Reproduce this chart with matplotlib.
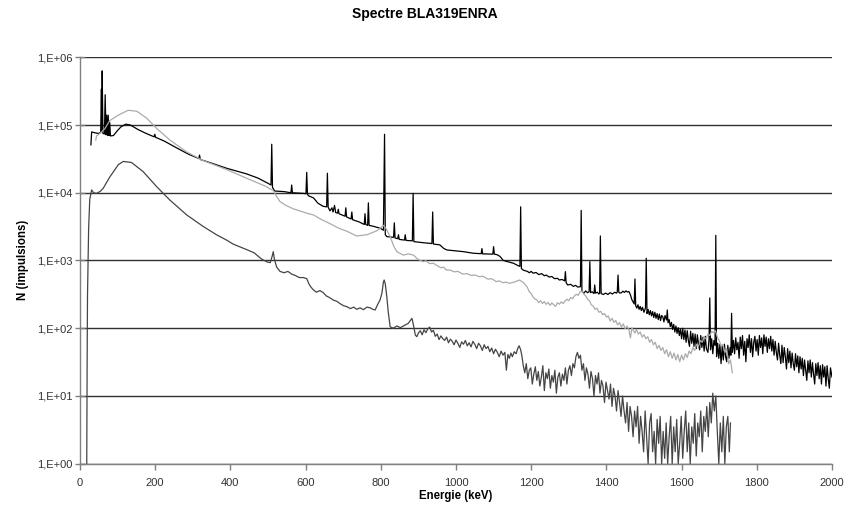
import matplotlib
matplotlib.use("Agg")
import numpy as np
from matplotlib import pyplot as plt
from matplotlib.ticker import FixedLocator, FuncFormatter, NullLocator

plt.rcParams["font.family"] = ["Liberation Sans", "DejaVu Sans"]

# Spectre BLA319ENRA, values: (energie keV, impulsions)
black = [
    (29, 5.1e4), (31, 7.9e4), (39, 7.7e4), (49, 7.5e4), (55, 7.8e4), (57, 3.4e5),
    (58, 8.0e4), (59, 6.3e5), (61, 7.5e4), (65, 7.4e4), (67, 2.8e5), (69, 7.2e4),
    (71, 1.4e5), (73, 7.0e4), (75, 1.4e5), (77, 7.0e4), (79, 1.1e5), (81, 6.9e4),
    (89, 7.0e4), (99, 8.2e4), (109, 9.4e4), (122, 1.03e5), (134, 1.0e5), (154, 8.6e4),
    (174, 7.6e4), (197, 6.7e4), (199, 7.3e4), (201, 6.6e4), (224, 5.8e4), (257, 4.6e4),
    (289, 3.7e4), (316, 3.2e4), (318, 3.6e4), (320, 3.1e4), (353, 2.7e4), (390, 2.3e4),
    (443, 1.9e4), (473, 1.65e4), (500, 1.38e4), (508, 1.3e4), (510, 5.2e4), (512, 1.2e4),
    (518, 1.06e4), (543, 1.04e4), (561, 1.0e4), (563, 1.3e4), (565, 1.0e4), (593, 9.8e3),
    (601, 9.7e3), (603, 2.0e4), (605, 9.5e3), (608, 9.0e3), (621, 8.4e3), (633, 7.0e3),
    (647, 6.3e3), (656, 6.2e3), (658, 1.94e4), (660, 6.1e3), (665, 5.4e3), (670, 6.0e3),
    (673, 5.2e3), (677, 6.5e3), (680, 5.1e3), (685, 5.0e3), (687, 5.7e3), (689, 4.9e3),
    (705, 4.5e3), (707, 6.0e3), (709, 4.4e3), (721, 4.1e3), (723, 5.2e3), (725, 4.0e3),
    (743, 3.7e3), (756, 3.4e3), (758, 4.9e3), (760, 3.4e3), (765, 3.3e3), (767, 7.1e3),
    (769, 3.3e3), (780, 3.2e3), (798, 3.0e3), (807, 2.8e3), (810, 7.3e4), (812, 2.4e3),
    (816, 2.25e3), (834, 2.2e3), (836, 3.6e3), (838, 2.15e3), (845, 2.1e3), (847, 2.4e3),
    (849, 2.05e3), (863, 2.0e3), (865, 2.4e3), (867, 1.98e3), (884, 1.95e3), (886, 9.8e3),
    (888, 1.9e3), (913, 1.83e3), (936, 1.78e3), (938, 5.2e3), (940, 1.75e3), (957, 1.7e3),
    (968, 1.5e3), (976, 1.43e3), (1020, 1.35e3), (1046, 1.28e3), (1067, 1.26e3),
    (1069, 1.5e3), (1071, 1.25e3), (1082, 1.25e3), (1098, 1.24e3), (1100, 1.6e3),
    (1102, 1.24e3), (1109, 1.22e3), (1117, 1.15e3), (1126, 1.0e3), (1153, 910),
    (1165, 840), (1170, 820), (1172, 6.2e3), (1174, 760), (1179, 720), (1190, 690),
    (1195, 660), (1200, 690), (1205, 650), (1213, 665), (1220, 620), (1228, 640),
    (1235, 595), (1240, 610), (1248, 570), (1255, 580), (1262, 540), (1270, 545),
    (1275, 515), (1282, 525), (1289, 500), (1291, 685), (1293, 470), (1297, 435),
    (1305, 445), (1312, 415), (1318, 430), (1324, 405), (1331, 410), (1333, 5.5e3),
    (1335, 350), (1340, 330), (1345, 355), (1350, 335), (1354, 345), (1356, 960),
    (1358, 335), (1362, 345), (1367, 325), (1369, 435), (1371, 330), (1376, 340),
    (1380, 320), (1382, 330), (1384, 2300), (1386, 325), (1392, 315), (1398, 330),
    (1404, 315), (1410, 335), (1416, 320), (1422, 340), (1427, 330), (1429, 345),
    (1431, 610), (1433, 340), (1436, 330), (1440, 335), (1444, 352), (1448, 338),
    (1452, 356), (1456, 342), (1460, 348), (1464, 310), (1468, 262), (1472, 240),
    (1474, 228), (1476, 533), (1478, 215), (1481, 198), (1484, 222), (1487, 190),
    (1490, 210), (1493, 182), (1496, 204), (1500, 172), (1504, 200), (1506, 1080),
    (1508, 165), (1511, 190), (1514, 158), (1517, 182), (1520, 152), (1523, 176),
    (1526, 144), (1529, 172), (1532, 140), (1535, 164), (1538, 134), (1541, 162),
    (1544, 130), (1547, 154), (1550, 148), (1553, 124), (1556, 154), (1560, 132),
    (1562, 186), (1564, 120), (1567, 134), (1570, 106), (1573, 122), (1576, 96),
    (1579, 114), (1582, 88), (1585, 108), (1588, 84), (1591, 102), (1594, 78),
    (1597, 98), (1600, 70), (1603, 100), (1606, 68), (1609, 94), (1612, 62),
    (1615, 92), (1618, 66), (1621, 54), (1624, 90), (1627, 60), (1630, 84),
    (1633, 54), (1636, 82), (1639, 50), (1642, 80), (1645, 58), (1648, 48),
    (1651, 78), (1654, 52), (1657, 74), (1660, 46), (1663, 76), (1666, 50),
    (1670, 44), (1673, 68), (1675, 280), (1677, 48), (1680, 70), (1683, 42),
    (1686, 66), (1689, 56), (1691, 2350), (1693, 38), (1696, 60), (1699, 36),
    (1702, 58), (1705, 30), (1708, 54), (1711, 34), (1714, 58), (1717, 38),
    (1720, 32), (1723, 56), (1726, 36), (1729, 52), (1731, 40), (1733, 166),
    (1735, 44), (1738, 66), (1741, 42), (1744, 72), (1747, 48), (1750, 62),
    (1753, 36), (1756, 74), (1759, 50), (1762, 78), (1765, 40), (1768, 64),
    (1771, 32), (1774, 70), (1777, 52), (1780, 80), (1783, 44), (1786, 70),
    (1789, 38), (1792, 62), (1795, 76), (1798, 46), (1801, 68), (1804, 40),
    (1807, 78), (1810, 52), (1813, 72), (1816, 42), (1819, 80), (1822, 54),
    (1825, 74), (1828, 44), (1831, 70), (1834, 50), (1837, 76), (1840, 46),
    (1843, 68), (1846, 40), (1849, 64), (1852, 44), (1855, 34), (1858, 60),
    (1861, 40), (1864, 30), (1867, 56), (1870, 31), (1873, 52), (1876, 38),
    (1879, 25), (1882, 50), (1885, 31), (1888, 46), (1891, 26), (1894, 43),
    (1897, 30), (1900, 24), (1903, 42), (1906, 27), (1909, 39), (1912, 22),
    (1915, 38), (1918, 25), (1921, 36), (1924, 20), (1927, 34), (1930, 24),
    (1933, 17), (1936, 33), (1939, 22), (1942, 34), (1945, 19), (1948, 31),
    (1951, 21), (1954, 15), (1957, 30), (1960, 20), (1963, 31), (1966, 18),
    (1969, 28), (1972, 15), (1975, 29), (1978, 19), (1981, 27), (1984, 14),
    (1987, 28), (1990, 18), (1993, 13), (1996, 26), (2000, 19),
]

light = [
    (42, 6.0e4), (44, 6.9e4), (54, 7.6e4), (66, 8.8e4), (79, 1.16e5), (102, 1.4e5),
    (128, 1.65e5), (151, 1.6e5), (177, 1.27e5), (204, 8.9e4), (239, 6.0e4), (284, 4.0e4),
    (327, 3.0e4), (390, 2.2e4), (443, 1.64e4), (496, 1.23e4), (508, 1.12e4), (514, 1.08e4),
    (523, 8.8e3), (532, 7.4e3), (548, 6.5e3), (567, 5.8e3), (603, 5.0e3), (621, 4.7e3),
    (643, 4.0e3), (665, 3.5e3), (688, 3.0e3), (710, 2.7e3), (736, 2.3e3), (763, 2.4e3),
    (790, 2.75e3), (807, 3.3e3), (815, 2.9e3), (825, 2.25e3), (835, 1.6e3), (843, 1.35e3),
    (860, 1.2e3), (873, 1.25e3), (887, 1.2e3), (898, 1.05e3), (913, 960), (920, 990),
    (930, 900), (940, 910), (947, 860), (960, 780), (967, 800), (974, 725), (985, 720),
    (995, 680), (1005, 690), (1018, 630), (1030, 640), (1040, 600), (1050, 610),
    (1062, 577), (1072, 585), (1085, 530), (1095, 540), (1107, 487), (1115, 500),
    (1125, 470), (1133, 480), (1142, 460), (1155, 480), (1169, 515), (1180, 470),
    (1190, 400), (1195, 345), (1200, 325), (1205, 290), (1210, 270), (1215, 262),
    (1220, 238), (1225, 255), (1230, 232), (1235, 247), (1240, 225), (1245, 240),
    (1250, 218), (1255, 236), (1260, 222), (1265, 210), (1270, 238), (1275, 226),
    (1280, 245), (1285, 232), (1290, 252), (1295, 268), (1300, 255), (1305, 285),
    (1310, 272), (1315, 300), (1320, 318), (1325, 305), (1330, 345), (1335, 352),
    (1340, 318), (1345, 300), (1350, 268), (1355, 255), (1360, 222), (1365, 212),
    (1370, 190), (1375, 198), (1380, 172), (1385, 178), (1390, 158), (1395, 165),
    (1400, 146), (1405, 152), (1410, 128), (1415, 140), (1420, 122), (1425, 130),
    (1430, 112), (1435, 121), (1440, 104), (1445, 116), (1450, 98), (1455, 108),
    (1460, 94), (1464, 72), (1468, 102), (1472, 92), (1476, 85), (1480, 96),
    (1485, 82), (1490, 88), (1495, 74), (1500, 80), (1505, 70), (1510, 75),
    (1515, 62), (1520, 68), (1525, 57), (1530, 62), (1535, 50), (1540, 56),
    (1545, 47), (1550, 52), (1555, 42), (1560, 48), (1565, 38), (1570, 45),
    (1575, 36), (1580, 43), (1585, 34), (1590, 41), (1595, 32), (1600, 40),
    (1605, 34), (1610, 42), (1615, 37), (1620, 46), (1625, 42), (1630, 52),
    (1635, 47), (1640, 58), (1645, 54), (1650, 66), (1655, 62), (1660, 74),
    (1665, 70), (1670, 82), (1675, 78), (1680, 90), (1685, 86), (1690, 92),
    (1695, 74), (1700, 66), (1705, 55), (1710, 58), (1715, 44), (1720, 50),
    (1725, 30), (1730, 34), (1735, 22),
]

dark = [
    (18, 1.0), (19, 30), (20, 300), (23, 3.0e3), (26, 8.0e3), (31, 1.1e4), (36, 1.0e4),
    (44, 9.8e3), (54, 1.05e4), (62, 1.17e4), (79, 1.7e4), (102, 2.6e4), (115, 2.9e4),
    (137, 2.8e4), (168, 2.05e4), (204, 1.23e4), (239, 7.8e3), (284, 4.7e3), (327, 3.2e3),
    (363, 2.4e3), (390, 2.0e3), (407, 1.75e3), (443, 1.45e3), (463, 1.3e3), (483, 1.05e3),
    (498, 950), (506, 930), (511, 1.15e3), (514, 1.35e3), (517, 1.05e3), (523, 800),
    (532, 690), (543, 660), (553, 690), (563, 630), (573, 600), (583, 560), (594, 560),
    (603, 540), (609, 450), (615, 400), (621, 367), (629, 340), (638, 360), (647, 335),
    (655, 300), (663, 285), (674, 260), (683, 250), (692, 230), (701, 215), (710, 208),
    (719, 195), (728, 205), (736, 190), (745, 200), (754, 188), (763, 205), (772, 200),
    (779, 190), (785, 186), (791, 220), (798, 261), (803, 330), (807, 480), (809, 515),
    (812, 450), (816, 293), (820, 170), (825, 105), (833, 100), (843, 108), (852, 102),
    (863, 110), (873, 118), (883, 140), (887, 110), (892, 79), (896, 75), (900, 85),
    (905, 92), (910, 80), (915, 95), (920, 86), (925, 98), (930, 104), (935, 88),
    (940, 93), (945, 76), (950, 82), (955, 68), (960, 77), (965, 70), (970, 66),
    (975, 74), (980, 61), (985, 69), (990, 64), (995, 57), (1000, 67), (1005, 60),
    (1010, 52), (1015, 63), (1020, 58), (1025, 66), (1030, 55), (1035, 61), (1040, 53),
    (1045, 64), (1050, 58), (1055, 50), (1060, 60), (1065, 55), (1070, 47), (1075, 57),
    (1080, 50), (1085, 54), (1090, 45), (1095, 51), (1100, 42), (1105, 49), (1110, 44),
    (1115, 38), (1120, 46), (1125, 40), (1130, 44), (1134, 24), (1138, 41), (1142, 36),
    (1146, 43), (1150, 38), (1155, 45), (1160, 42), (1164, 50), (1168, 55), (1172, 48),
    (1175, 40), (1179, 28), (1183, 22), (1187, 30), (1191, 18), (1195, 24), (1199, 26),
    (1203, 15), (1207, 21), (1211, 27), (1215, 17), (1219, 23), (1223, 14), (1227, 19),
    (1231, 28), (1235, 12), (1239, 22), (1243, 18), (1247, 25), (1251, 13), (1255, 20),
    (1259, 16), (1263, 24), (1267, 11), (1271, 19), (1275, 22), (1279, 14), (1283, 21),
    (1287, 17), (1291, 26), (1295, 15), (1299, 24), (1303, 28), (1307, 20), (1311, 30),
    (1315, 26), (1319, 38), (1323, 44), (1327, 36), (1331, 40), (1335, 24), (1339, 30),
    (1343, 17), (1347, 26), (1351, 21), (1355, 13), (1359, 23), (1363, 18), (1367, 10),
    (1371, 20), (1375, 15), (1379, 22), (1383, 11), (1387, 17), (1391, 14), (1395, 8),
    (1399, 16), (1403, 12), (1407, 9), (1411, 15), (1415, 7), (1419, 13), (1423, 10),
    (1427, 6), (1431, 12), (1435, 8), (1439, 5), (1443, 10), (1447, 6), (1451, 4),
    (1455, 8), (1459, 3), (1463, 7), (1467, 5), (1471, 2.5), (1475, 6), (1479, 3.5),
    (1483, 7), (1487, 2), (1491, 5), (1495, 3), (1499, 1.5), (1503, 6), (1507, 2.5),
    (1511, 1), (1515, 4), (1519, 5.5), (1523, 1.5), (1527, 3), (1531, 1), (1535, 4.5),
    (1539, 2), (1543, 5), (1547, 1), (1551, 3), (1555, 1.2), (1559, 4), (1563, 1),
    (1567, 2.5), (1571, 5), (1575, 1), (1579, 3.5), (1583, 1.5), (1587, 4.5), (1591, 1),
    (1595, 2), (1599, 5), (1603, 1.2), (1607, 3), (1611, 6), (1615, 1.5), (1619, 4),
    (1623, 1), (1627, 3.5), (1631, 2), (1635, 5.5), (1639, 1.3), (1643, 4), (1647, 2.5),
    (1651, 6), (1655, 1.5), (1659, 5), (1663, 3), (1667, 7), (1671, 2.5), (1675, 8),
    (1679, 4), (1683, 11), (1687, 6), (1691, 10), (1695, 3), (1699, 1), (1703, 4),
    (1707, 1.5), (1711, 5), (1715, 1), (1719, 3.5), (1723, 5), (1727, 1.5), (1730, 4),
]

x_ticks = list(range(0, 2001, 200))
y_ticks = [1e0, 1e1, 1e2, 1e3, 1e4, 1e5, 1e6]

fig = plt.figure(figsize=(8.5, 5.07), dpi=100)
ax = fig.add_axes([0.0941, 0.0854, 0.8847, 0.8016])

for series, color in [(black, "#000000"), (light, "#ababab"), (dark, "#454545")]:
    e, n = zip(*series)
    ax.plot(e, n, color=color, lw=0.9)

ax.set_yscale("log")
ax.set_xlim(0, 2000)
ax.set_ylim(1, 1e6)
ax.yaxis.set_major_locator(FixedLocator(y_ticks))
ax.yaxis.set_minor_locator(NullLocator())
ax.yaxis.set_major_formatter(FuncFormatter(lambda v, p: "1,E+%02d" % round(np.log10(v))))
ax.xaxis.set_major_locator(FixedLocator(x_ticks))

ax.grid(axis="y", color="#303030", lw=1.0)
ax.set_axisbelow(True)
for side in ["top", "right"]:
    ax.spines[side].set_visible(False)
for side in ["left", "bottom"]:
    ax.spines[side].set_color("#808080")
    ax.spines[side].set_linewidth(1.0)

ax.tick_params(axis="y", direction="inout", length=7, width=1, color="#808080",
               labelsize=8, labelcolor="#333333", pad=2)
ax.tick_params(axis="x", direction="out", length=4, width=1, color="#808080",
               labelsize=8, labelcolor="#333333", pad=6)

fig.text(0.5, 1 - 14 / 507, "Spectre BLA319ENRA", ha="center", va="center",
         fontsize=10, fontweight="bold")
fig.text(456 / 850, 1 - 496 / 507, "Energie (keV)", ha="center", va="center",
         fontsize=8.3, fontweight="bold")
fig.text(23 / 850, 1 - 260 / 507, "N (impulsions)", ha="center", va="center",
         rotation=90, fontsize=8.3, fontweight="bold")

plt.savefig("out.png", dpi=100)
